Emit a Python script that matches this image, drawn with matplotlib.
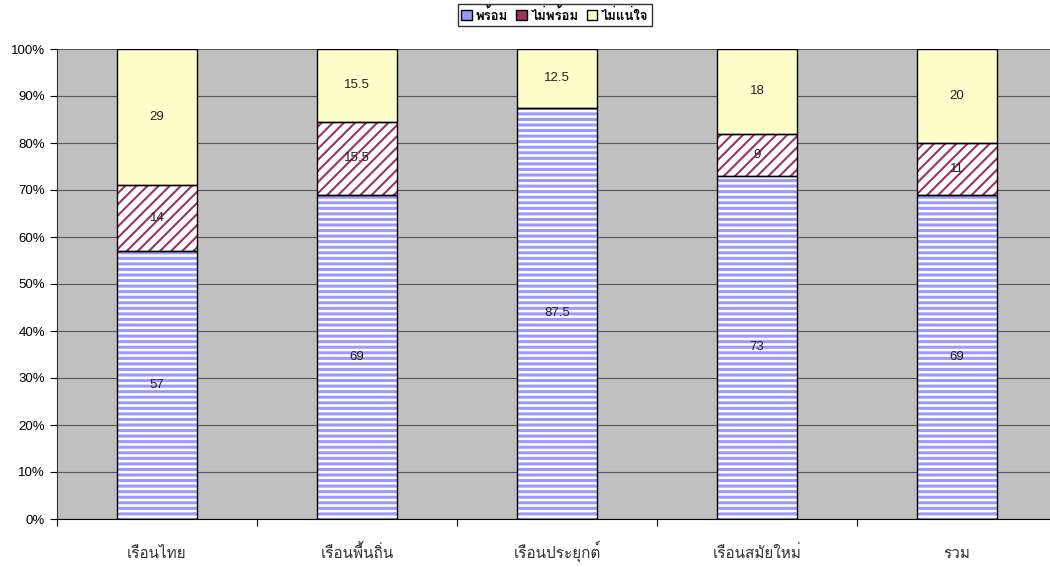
import matplotlib
matplotlib.use("Agg")
import matplotlib.pyplot as plt
from matplotlib import font_manager
from matplotlib.ft2font import FT2Font
import numpy as np

categories = ["เรือนไทย", "เรือนพื้นถิ่น", "เรือนประยุกต์", "เรือนสมัยใหม่", "รวม"]
series_names = ["พร้อม", "ไม่พร้อม", "ไม่แน่ใจ"]
ready = [57, 69, 87.5, 73, 69]
not_ready = [14, 15.5, 0, 9, 11]
unsure = [29, 15.5, 12.5, 18, 20]

# find a font with Thai glyphs
thai_font = None
for fe in font_manager.fontManager.ttflist:
    try:
        cm = FT2Font(fe.fname).get_charmap()
        if 0x0E40 in cm and 0x0E23 in cm:
            thai_font = fe.name
            break
    except Exception:
        pass
fams = ([thai_font] if thai_font else []) + ["DejaVu Sans"]
plt.rcParams['font.family'] = ["Liberation Sans"] + fams

fig = plt.figure(figsize=(10.5, 5.67), dpi=100)
ax = fig.add_axes([57/1050, 1 - 519/567, 993/1050, 470/567])
ax.set_facecolor("#C0C0C0")

x = np.arange(len(categories))
w = 0.4
plt.rcParams['hatch.linewidth'] = 2.2
b1 = ax.bar(x, ready, w, color="white", edgecolor="#9999FF", hatch="---", linewidth=0, zorder=2)
plt.rcParams['hatch.linewidth'] = 1.5
b2 = ax.bar(x, not_ready, w, bottom=ready, color="white", edgecolor="#993366", hatch="///", linewidth=0, zorder=2)
bot3 = np.array(ready) + np.array(not_ready)
b3 = ax.bar(x, unsure, w, bottom=bot3, color="#FFFFCC", edgecolor="black", linewidth=1, zorder=2)
for bars in (b1, b2):
    for r in bars:
        if r.get_height() > 0:
            ax.add_patch(plt.Rectangle((r.get_x(), r.get_y()), r.get_width(), r.get_height(),
                                       fill=False, edgecolor="black", linewidth=1, zorder=3))

for bars, vals in ((b1, ready), (b2, not_ready), (b3, unsure)):
    for r, v in zip(bars, vals):
        if v > 0:
            ax.text(r.get_x() + r.get_width()/2, r.get_y() + r.get_height()/2,
                    f"{v:g}", ha="center", va="center", fontsize=9.5, color="#222222", zorder=4,
                    family=["Liberation Sans"])

ax.set_xlim(-0.5, 4.465)
ax.set_ylim(0, 100)
ax.set_yticks(np.arange(0, 101, 10))
ax.set_yticklabels([f"{t}%" for t in range(0, 101, 10)], fontsize=9.5, family=["Liberation Sans"])
ax.yaxis.grid(True, color="#555555", linewidth=0.8, zorder=1)
ax.set_axisbelow(True)
ax.set_xticks(np.arange(-0.5, 4.5, 1.0))
ax.set_xticklabels([])
ax.set_xticks(x, minor=True)
ax.set_xticklabels(categories, minor=True, fontsize=11, color="#333333")
ax.tick_params(axis="x", which="minor", length=0, pad=28)
for lab in ax.get_xticklabels(minor=True):
    lab.set_verticalalignment("baseline")
ax.tick_params(axis="x", which="major", length=5, direction="out", color="black")
ax.tick_params(axis="y", length=5, direction="out")
for s in ("top", "right"):
    ax.spines[s].set_visible(False)
ax.spines["left"].set_color("#333333")
ax.spines["bottom"].set_color("black")

leg = fig.legend([b1, b2, b3], series_names, loc="center", bbox_to_anchor=(555/1050, 1 - 15/567),
                 ncol=3, frameon=True, fancybox=False, edgecolor="black",
                 handlelength=0.8, handleheight=0.8, handletextpad=0.3, columnspacing=0.6,
                 borderpad=0.25, prop={"family": fams, "size": 9.5, "weight": "bold"})
leg.get_frame().set_linewidth(1)
for h in leg.legend_handles:
    h.set_linewidth(1)
    h.set_edgecolor("black")
    h.set_hatch(None)
leg.legend_handles[0].set_facecolor("#9999FF")
leg.legend_handles[1].set_facecolor("#993366")

fig.savefig("out.png", dpi=100)
